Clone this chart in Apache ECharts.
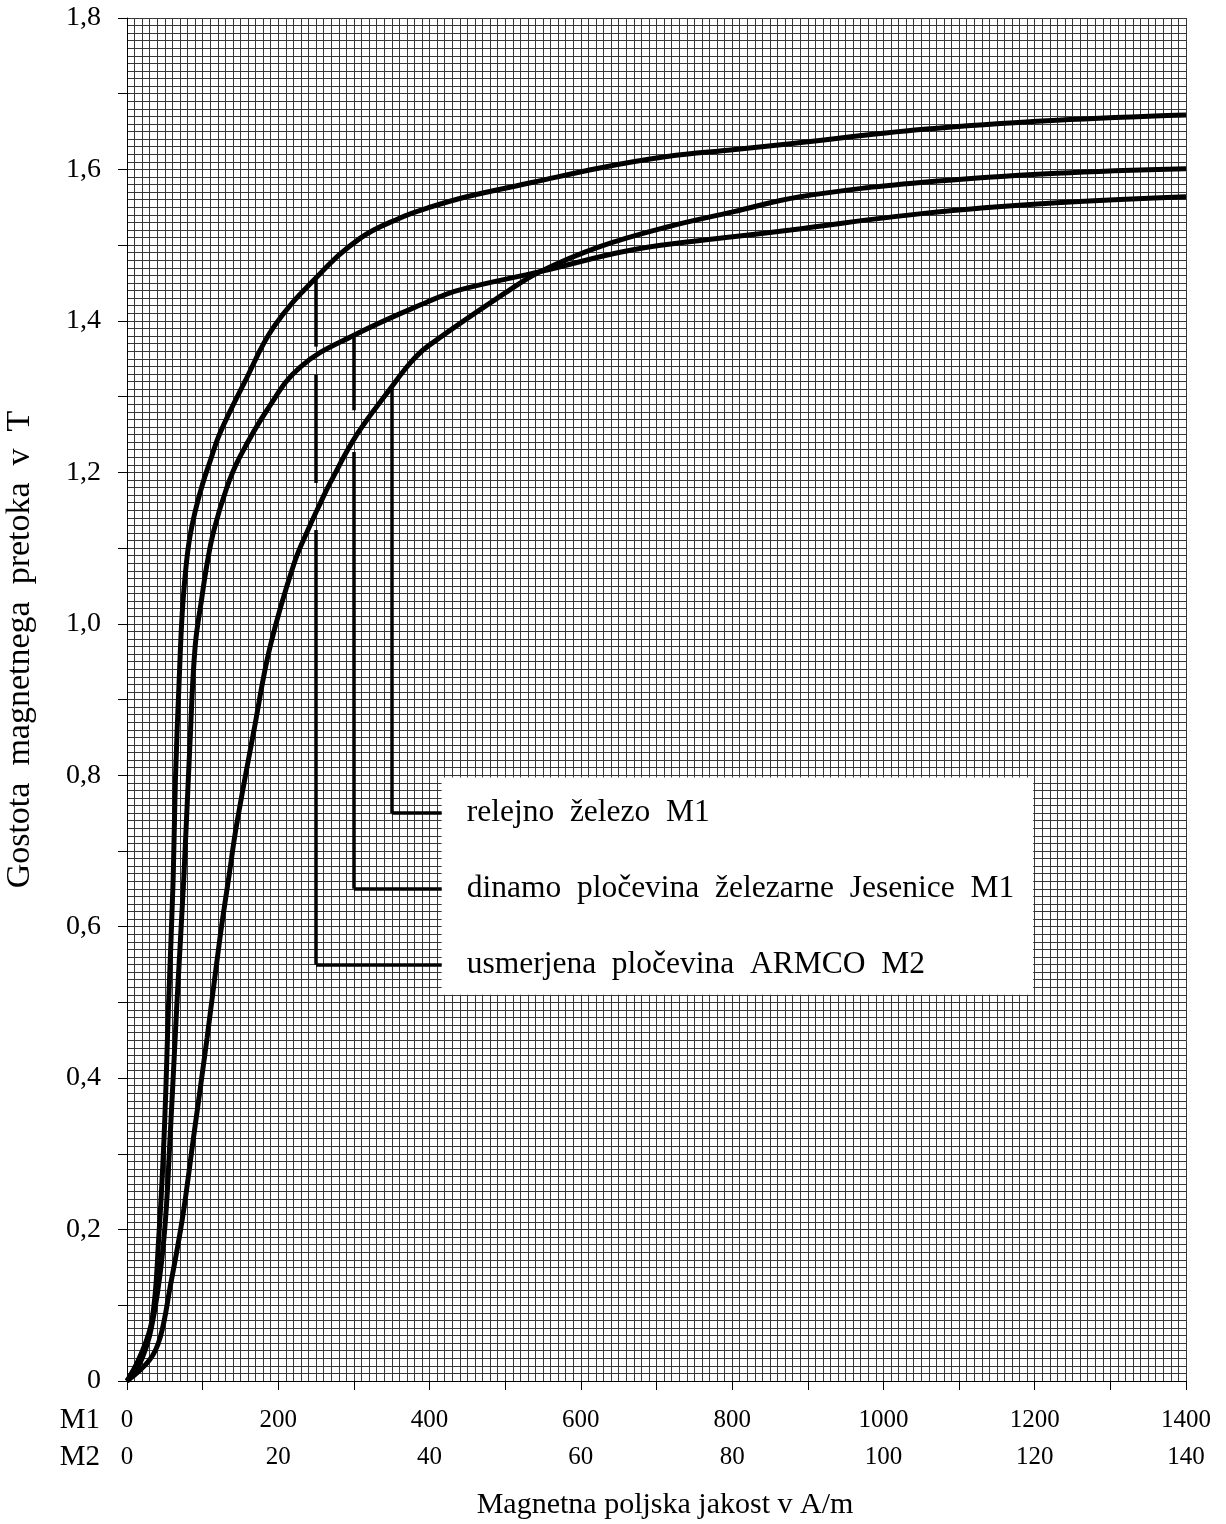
<!DOCTYPE html>
<html>
<head>
<meta charset="utf-8">
<script src="https://cdn.jsdelivr.net/npm/echarts@6/dist/echarts.min.js"></script>
<style>
    html, body { margin: 0; padding: 0; background: #fff; }
    #chart { width: 1226px; height: 1524px; }
</style>
</head>
<body>
<div id="chart"></div>
<script>
    // H v A/m (skala M1), B v T
    const armcoH = [0, 17, 33, 42, 49, 55, 61, 64, 69, 73, 78, 83, 90, 100, 110, 123, 155, 194, 250, 308, 361, 397, 449, 537, 625, 714, 801, 877, 1053, 1229, 1400];
    const armcoB = [0, 0.032, 0.08, 0.19, 0.322, 0.499, 0.662, 0.794, 0.926, 1.014, 1.075, 1.114, 1.148, 1.185, 1.215, 1.252, 1.318, 1.392, 1.457, 1.509, 1.536, 1.549, 1.564, 1.583, 1.602, 1.617, 1.626, 1.634, 1.653, 1.665, 1.672];

    const dinamoH = [0, 20, 36, 49, 57, 66, 75, 83, 90, 99, 106, 115, 132, 149, 185, 229, 300, 397, 440, 546, 669, 801, 877, 1053, 1229, 1400];
    const dinamoB = [0, 0.03, 0.09, 0.19, 0.322, 0.499, 0.662, 0.837, 0.969, 1.035, 1.08, 1.124, 1.18, 1.22, 1.282, 1.339, 1.381, 1.425, 1.441, 1.465, 1.494, 1.511, 1.52, 1.542, 1.556, 1.564];

    const relejnoH = [0, 30, 44, 57, 73, 88, 106, 123, 135, 145, 168, 189, 221, 242, 255, 268, 304, 350, 374, 397, 506, 546, 625, 714, 801, 890, 1053, 1229, 1400];
    const relejnoB = [0, 0.028, 0.058, 0.124, 0.213, 0.322, 0.454, 0.586, 0.668, 0.735, 0.86, 0.969, 1.08, 1.13, 1.158, 1.185, 1.25, 1.313, 1.344, 1.366, 1.441, 1.465, 1.498, 1.524, 1.544, 1.564, 1.583, 1.595, 1.601];

    const names = ['usmerjena  pločevina  ARMCO  M2', 'dinamo  pločevina  železarne  Jesenice  M1', 'relejno  železo  M1'];

    // kazalne črte: x, odseki po B (z vrzelmi), B vodoravne črte
    const leaderH = [250, 300, 350];
    const leaderSegs = [
        [[1.457, 1.366], [1.329, 1.186], [1.124, 0.55]],
        [[1.381, 1.282], [1.227, 0.65]],
        [[1.313, 0.75]]
    ];
    const leaderEndB = [0.55, 0.65, 0.75];
    const boxH = [416, 1198];
    const boxB = [0.51, 0.797];

    const xTicksM1 = [0, 1400, 100];
    const xTicksM2 = [0, 140, 10];
    const yTicks = [0, 1.8, 0.1];

    const font = 'Liberation Serif';
    const gridColor = '#363636';

    function zip(xs, ys) {
        return xs.map((x, i) => [x, ys[i]]);
    }

    function leader(i) {
        let data = [];
        leaderSegs[i].forEach((s) => {
            data.push([{ coord: [leaderH[i], s[0]] }, { coord: [leaderH[i], s[1]] }]);
        });
        data.push([
            { coord: [leaderH[i], leaderEndB[i]], name: names[i], label: { show: true } },
            { coord: [boxH[0], leaderEndB[i]] }
        ]);
        return {
            silent: true,
            symbol: ['none', 'none'],
            lineStyle: { color: '#000', width: 3.5, type: 'solid' },
            label: {
                show: false,
                position: 'end',
                distance: 25,
                formatter: '{b}',
                color: '#000',
                fontFamily: font,
                fontSize: 31.5
            },
            emphasis: { disabled: true },
            data: data
        };
    }

    const curves = [zip(armcoH, armcoB), zip(dinamoH, dinamoB), zip(relejnoH, relejnoB)];

    let series = curves.map((c, i) => ({
        type: 'line',
        name: names[i],
        data: c,
        showSymbol: false,
        smooth: 0.4,
        lineStyle: { color: '#000', width: 5 },
        itemStyle: { color: '#000' },
        emphasis: { disabled: true },
        markLine: leader(i),
        z: 3
    }));
    series[0].markArea = {
        silent: true,
        itemStyle: { color: '#fff' },
        data: [[{ coord: [boxH[0], boxB[1]] }, { coord: [boxH[1], boxB[0]] }]]
    };

    const myChart = echarts.init(document.getElementById('chart'));
    myChart.setOption({
        animation: false,
        backgroundColor: '#fff',
        title: {
            text: 'Magnetna poljska jakost v A/m',
            left: 660,
            top: 1485,
            textAlign: 'center',
            textStyle: { fontFamily: font, fontSize: 30, fontWeight: 'normal', color: '#000' }
        },
        grid: { left: 127, right: 40, top: 18, bottom: 143, containLabel: false, outerBoundsMode: 'none' },
        xAxis: [{
            type: 'value',
            min: xTicksM1[0],
            max: xTicksM1[1],
            interval: xTicksM1[2],
            name: 'M1',
            nameLocation: 'start',
            nameGap: 27,
            nameTextStyle: { fontFamily: font, fontSize: 29, color: '#000', verticalAlign: 'top', padding: [25, 0, 0, 0] },
            axisLine: { show: true, lineStyle: { color: '#000', width: 1 } },
            axisTick: { show: true, inside: false, length: 9, lineStyle: { color: '#000' } },
            axisLabel: {
                margin: 27,
                fontFamily: font,
                fontSize: 25,
                color: '#000',
                formatter: (v) => (v % 200 === 0 ? String(v) : '')
            },
            splitLine: { show: true, lineStyle: { color: gridColor, width: 1 } },
            minorTick: { show: false, splitNumber: 10 },
            minorSplitLine: { show: true, lineStyle: { color: gridColor, width: 1 } }
        }, {
            type: 'value',
            position: 'bottom',
            offset: 37,
            min: xTicksM2[0],
            max: xTicksM2[1],
            interval: xTicksM2[2],
            name: 'M2',
            nameLocation: 'start',
            nameGap: 27,
            nameTextStyle: { fontFamily: font, fontSize: 29, color: '#000', verticalAlign: 'top', padding: [25, 0, 0, 0] },
            axisLine: { show: false },
            axisTick: { show: false },
            splitLine: { show: false },
            axisLabel: {
                margin: 27,
                fontFamily: font,
                fontSize: 25,
                color: '#000',
                formatter: (v) => (v % 20 === 0 ? String(v) : '')
            }
        }],
        yAxis: {
            type: 'value',
            min: yTicks[0],
            max: yTicks[1],
            interval: yTicks[2],
            name: 'Gostota  magnetnega  pretoka  v  T',
            nameLocation: 'middle',
            nameGap: 90,
            nameTextStyle: { fontFamily: font, fontSize: 34, color: '#000', padding: [0, 0, 0, 100] },
            axisLine: { show: true, lineStyle: { color: '#000', width: 1 } },
            axisTick: { show: true, inside: false, length: 9, lineStyle: { color: '#000' } },
            axisLabel: {
                margin: 26,
                fontFamily: font,
                fontSize: 28,
                color: '#000',
                formatter: (v) => {
                    const k = Math.round(v * 10);
                    if (k % 2) return '';
                    return k === 0 ? '0' : (k / 10).toFixed(1).replace('.', ',');
                }
            },
            splitLine: { show: true, lineStyle: { color: gridColor, width: 1 } },
            minorTick: { show: false, splitNumber: 10 },
            minorSplitLine: { show: true, lineStyle: { color: gridColor, width: 1 } }
        },
        series: series
    });
</script>
</body>
</html>
